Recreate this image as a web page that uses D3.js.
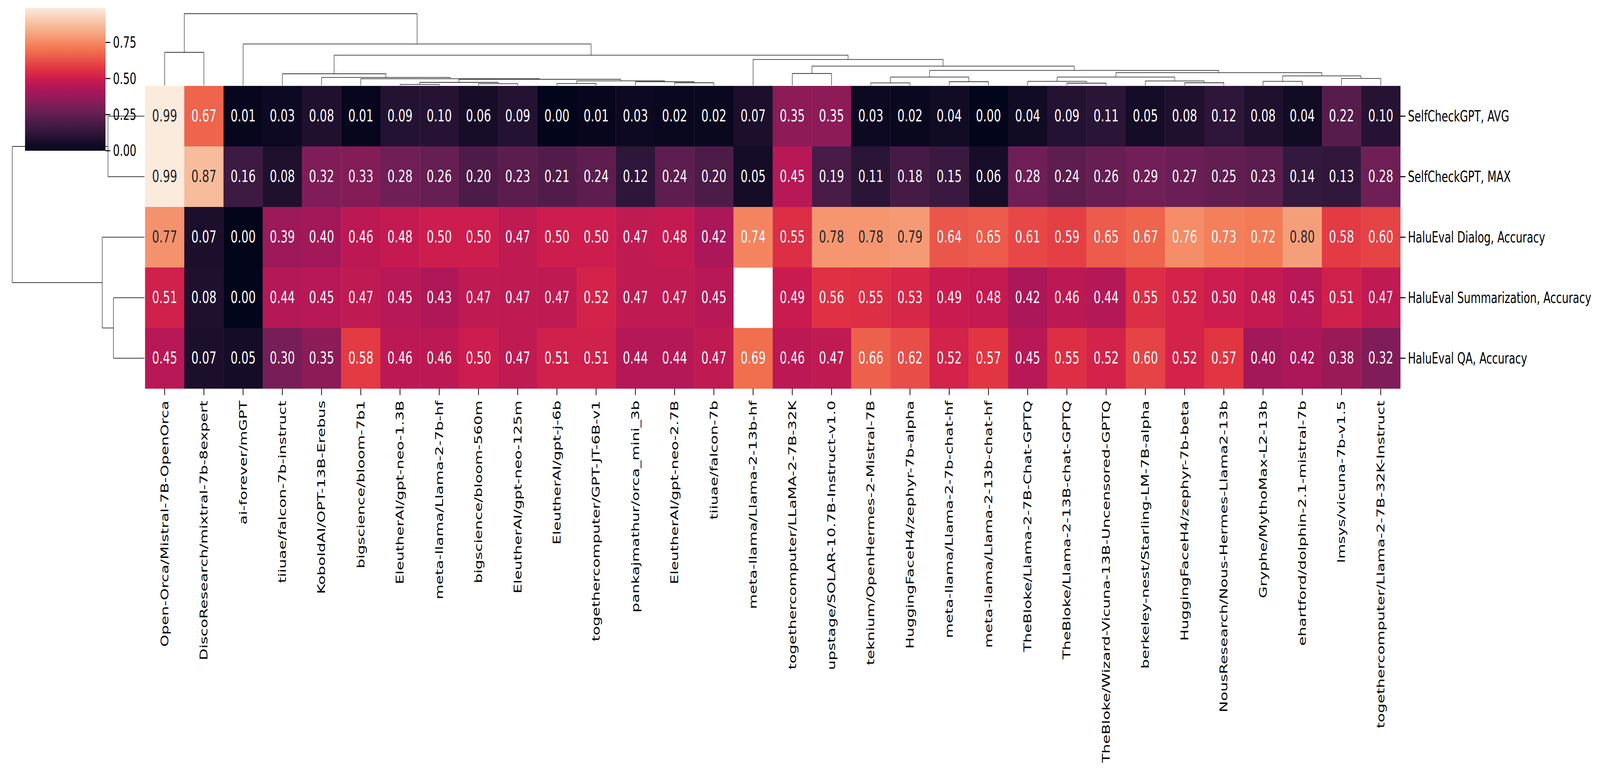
<!DOCTYPE html>
<html>
<head>
<meta charset="utf-8">
<script src="https://cdn.jsdelivr.net/npm/d3@7"></script>
<style>
  html, body { margin: 0; padding: 0; background: #fff; overflow: hidden; }
  #chart { display: block; width: 100vw; height: 100vh; }
  text { font-family: "DejaVu Sans", sans-serif; }
</style>
</head>
<body>
<svg id="chart" viewBox="0 0 5946 1990" preserveAspectRatio="none"></svg>
<script>
const rowLabels = [
  "SelfCheckGPT, AVG",
  "SelfCheckGPT, MAX",
  "HaluEval Dialog, Accuracy",
  "HaluEval Summarization, Accuracy",
  "HaluEval QA, Accuracy"
];

const colLabels = [
  "Open-Orca/Mistral-7B-OpenOrca", "DiscoResearch/mixtral-7b-8expert", "ai-forever/mGPT",
  "tiiuae/falcon-7b-instruct", "KoboldAI/OPT-13B-Erebus", "bigscience/bloom-7b1",
  "EleutherAI/gpt-neo-1.3B", "meta-llama/Llama-2-7b-hf", "bigscience/bloom-560m",
  "EleutherAI/gpt-neo-125m", "EleutherAI/gpt-j-6b", "togethercomputer/GPT-JT-6B-v1",
  "pankajmathur/orca_mini_3b", "EleutherAI/gpt-neo-2.7B", "tiiuae/falcon-7b",
  "meta-llama/Llama-2-13b-hf", "togethercomputer/LLaMA-2-7B-32K", "upstage/SOLAR-10.7B-Instruct-v1.0",
  "teknium/OpenHermes-2-Mistral-7B", "HuggingFaceH4/zephyr-7b-alpha", "meta-llama/Llama-2-7b-chat-hf",
  "meta-llama/Llama-2-13b-chat-hf", "TheBloke/Llama-2-7B-Chat-GPTQ", "TheBloke/Llama-2-13B-chat-GPTQ",
  "TheBloke/Wizard-Vicuna-13B-Uncensored-GPTQ", "berkeley-nest/Starling-LM-7B-alpha", "HuggingFaceH4/zephyr-7b-beta",
  "NousResearch/Nous-Hermes-Llama2-13b", "Gryphe/MythoMax-L2-13b", "ehartford/dolphin-2.1-mistral-7b",
  "lmsys/vicuna-7b-v1.5", "togethercomputer/Llama-2-7B-32K-Instruct"
];

const selfcheckAvg = [0.99, 0.67, 0.01, 0.03, 0.08, 0.01, 0.09, 0.10, 0.06, 0.09, 0.00, 0.01, 0.03, 0.02, 0.02, 0.07,
  0.35, 0.35, 0.03, 0.02, 0.04, 0.00, 0.04, 0.09, 0.11, 0.05, 0.08, 0.12, 0.08, 0.04, 0.22, 0.10];
const selfcheckMax = [0.99, 0.87, 0.16, 0.08, 0.32, 0.33, 0.28, 0.26, 0.20, 0.23, 0.21, 0.24, 0.12, 0.24, 0.20, 0.05,
  0.45, 0.19, 0.11, 0.18, 0.15, 0.06, 0.28, 0.24, 0.26, 0.29, 0.27, 0.25, 0.23, 0.14, 0.13, 0.28];
const dialogAcc = [0.77, 0.07, 0.00, 0.39, 0.40, 0.46, 0.48, 0.50, 0.50, 0.47, 0.50, 0.50, 0.47, 0.48, 0.42, 0.74,
  0.55, 0.78, 0.78, 0.79, 0.64, 0.65, 0.61, 0.59, 0.65, 0.67, 0.76, 0.73, 0.72, 0.80, 0.58, 0.60];
const summarizationAcc = [0.51, 0.08, 0.00, 0.44, 0.45, 0.47, 0.45, 0.43, 0.47, 0.47, 0.47, 0.52, 0.47, 0.47, 0.45, null,
  0.49, 0.56, 0.55, 0.53, 0.49, 0.48, 0.42, 0.46, 0.44, 0.55, 0.52, 0.50, 0.48, 0.45, 0.51, 0.47];
const qaAcc = [0.45, 0.07, 0.05, 0.30, 0.35, 0.58, 0.46, 0.46, 0.50, 0.47, 0.51, 0.51, 0.44, 0.44, 0.47, 0.69,
  0.46, 0.47, 0.66, 0.62, 0.52, 0.57, 0.45, 0.55, 0.52, 0.60, 0.52, 0.57, 0.40, 0.42, 0.38, 0.32];

const values = [selfcheckAvg, selfcheckMax, dialogAcc, summarizationAcc, qaAcc];

// linkage like scipy: [childA, childB, height]; ids >= n are earlier merges
const rowLinkage = [
  [0, 1, 0.276],
  [3, 4, 0.235],
  [2, 6, 0.32],
  [5, 7, 1.0]
];

const colLinkage = [
  [6, 7, 0.0147], [8, 9, 0.0255], [10, 11, 0.027], [13, 14, 0.038],
  [23, 24, 0.0326], [26, 27, 0.038], [18, 19, 0.036], [20, 21, 0.053],
  [28, 29, 0.058], [30, 31, 0.098], [32, 33, 0.0435], [12, 35, 0.053],
  [34, 43, 0.065], [42, 44, 0.087], [5, 45, 0.094], [4, 46, 0.1125],
  [3, 47, 0.163], [22, 36, 0.058], [25, 37, 0.0636], [49, 50, 0.118],
  [40, 41, 0.134], [51, 52, 0.179], [38, 39, 0.118], [54, 53, 0.21],
  [16, 17, 0.167], [56, 55, 0.27], [15, 57, 0.3625], [48, 58, 0.422],
  [2, 59, 0.578], [0, 1, 0.462], [61, 60, 1.0]
];

const cbarTicks = [0, 0.25, 0.5, 0.75];

// rocket colormap stops
const rocketPos = [0, 1 / 7, 2 / 7, 3 / 7, 0.5, 4 / 7, 5 / 7, 6 / 7, 1];
const rocketHex = ["#03051a", "#35193e", "#701f57", "#ad1759", "#cb1b4f", "#e13342", "#f37651", "#f6b48f", "#faebdd"];

const svg = d3.select("#chart");
svg.append("rect").attr("width", 5946).attr("height", 1990).attr("fill", "#fff");

const heat = { left: 539, right: 5204, top: 220, bottom: 995 };
const allVals = values.flat().filter(v => v !== null);
const vmin = d3.min(allVals), vmax = d3.max(allVals);

const color = d3.scaleLinear()
  .domain(rocketPos.map(p => vmin + p * (vmax - vmin)))
  .range(rocketHex)
  .interpolate(d3.interpolateRgb)
  .clamp(true);

const x = d3.scaleBand().domain(d3.range(colLabels.length)).range([heat.left, heat.right]);
const y = d3.scaleBand().domain(d3.range(rowLabels.length)).range([heat.top, heat.bottom]);

// cells
const cells = [];
values.forEach((row, r) => row.forEach((v, c) => cells.push({ r, c, v })));

const g = svg.append("g");
g.selectAll("rect.cell").data(cells.filter(d => d.v !== null)).enter()
  .append("rect")
  .attr("class", "cell")
  .attr("x", d => x(d.c))
  .attr("y", d => y(d.r))
  .attr("width", x.bandwidth() + 0.5)
  .attr("height", y.bandwidth() + 0.5)
  .attr("fill", d => color(d.v));

g.selectAll("text.annot").data(cells.filter(d => d.v !== null)).enter()
  .append("text")
  .attr("class", "annot")
  .attr("x", d => x(d.c) + x.bandwidth() / 2)
  .attr("y", d => y(d.r) + y.bandwidth() / 2)
  .attr("text-anchor", "middle")
  .attr("dominant-baseline", "central")
  .attr("font-size", 42)
  .attr("fill", d => d.v >= 0.77 ? "#262626" : "#ffffff")
  .text(d => d.v.toFixed(2));

// row labels + ticks
const rowAx = svg.append("g");
rowLabels.forEach((lab, i) => {
  const cy = y(i) + y.bandwidth() / 2;
  rowAx.append("line").attr("x1", heat.right).attr("x2", heat.right + 19)
    .attr("y1", cy).attr("y2", cy).attr("stroke", "#000").attr("stroke-width", 2.7);
  rowAx.append("text").attr("x", heat.right + 28).attr("y", cy)
    .attr("dominant-baseline", "central").attr("font-size", 39).attr("fill", "#000").text(lab);
});

// column labels + ticks
const colAx = svg.append("g");
colLabels.forEach((lab, i) => {
  const cx = x(i) + x.bandwidth() / 2;
  colAx.append("line").attr("x1", cx).attr("x2", cx)
    .attr("y1", heat.bottom).attr("y2", heat.bottom + 17).attr("stroke", "#000").attr("stroke-width", 2.7);
  colAx.append("text")
    .attr("transform", `translate(${cx},${heat.bottom + 31}) rotate(-90)`)
    .attr("text-anchor", "end").attr("dominant-baseline", "central")
    .attr("font-size", 39).attr("fill", "#000").text(lab);
});

// dendrogram helper: returns segments as [[pos,h],[pos,h]] in (leafPos, height) space
function dendroSegments(linkage, n, leafPos) {
  const pos = d3.range(n).map(leafPos);
  const hts = d3.range(n).map(() => 0);
  const segs = [];
  linkage.forEach(([a, b, h]) => {
    segs.push([[pos[a], hts[a]], [pos[a], h]]);
    segs.push([[pos[a], h], [pos[b], h]]);
    segs.push([[pos[b], h], [pos[b], hts[b]]]);
    pos.push((pos[a] + pos[b]) / 2);
    hts.push(h);
  });
  return segs;
}

const treeStroke = "#333333";

// column dendrogram
const colMax = d3.max(colLinkage, d => d[2]);
const colH = d3.scaleLinear().domain([0, colMax]).range([heat.top - 1, 35]);
const colSegs = dendroSegments(colLinkage, colLabels.length, i => x(i) + x.bandwidth() / 2);
svg.append("g").selectAll("line").data(colSegs).enter().append("line")
  .attr("x1", d => d[0][0]).attr("y1", d => colH(d[0][1]))
  .attr("x2", d => d[1][0]).attr("y2", d => colH(d[1][1]))
  .attr("stroke", treeStroke).attr("stroke-width", 1.8);

// row dendrogram
const rowMax = d3.max(rowLinkage, d => d[2]);
const rowH = d3.scaleLinear().domain([0, rowMax]).range([heat.left - 2, 45.5]);
const rowSegs = dendroSegments(rowLinkage, rowLabels.length, i => y(i) + y.bandwidth() / 2);
svg.append("g").selectAll("line").data(rowSegs).enter().append("line")
  .attr("x1", d => rowH(d[0][1])).attr("y1", d => d[0][0])
  .attr("x2", d => rowH(d[1][1])).attr("y2", d => d[1][0])
  .attr("stroke", treeStroke).attr("stroke-width", 1.8);

// colorbar
const cbar = { x: 93, w: 299, top: 20, bottom: 386 };
const cy = d3.scaleLinear().domain([vmin, vmax]).range([cbar.bottom, cbar.top]);
const grad = svg.append("defs").append("linearGradient")
  .attr("id", "cbarGrad").attr("x1", 0).attr("y1", 1).attr("x2", 0).attr("y2", 0);
d3.range(0, 1.0001, 0.02).forEach(t => {
  grad.append("stop").attr("offset", t).attr("stop-color", color(vmin + t * (vmax - vmin)));
});
svg.append("rect").attr("x", cbar.x).attr("y", cbar.top).attr("width", cbar.w)
  .attr("height", cbar.bottom - cbar.top).attr("fill", "url(#cbarGrad)");

const cbarAxis = svg.append("g");
cbarTicks.forEach(t => {
  const ty = cy(t);
  cbarAxis.append("line").attr("x1", cbar.x + cbar.w).attr("x2", cbar.x + cbar.w + 18)
    .attr("y1", ty).attr("y2", ty).attr("stroke", "#000").attr("stroke-width", 2.7);
  cbarAxis.append("text").attr("x", cbar.x + cbar.w + 28).attr("y", ty)
    .attr("dominant-baseline", "central").attr("font-size", 39).attr("fill", "#000")
    .text(t.toFixed(2));
});
</script>
</body>
</html>
